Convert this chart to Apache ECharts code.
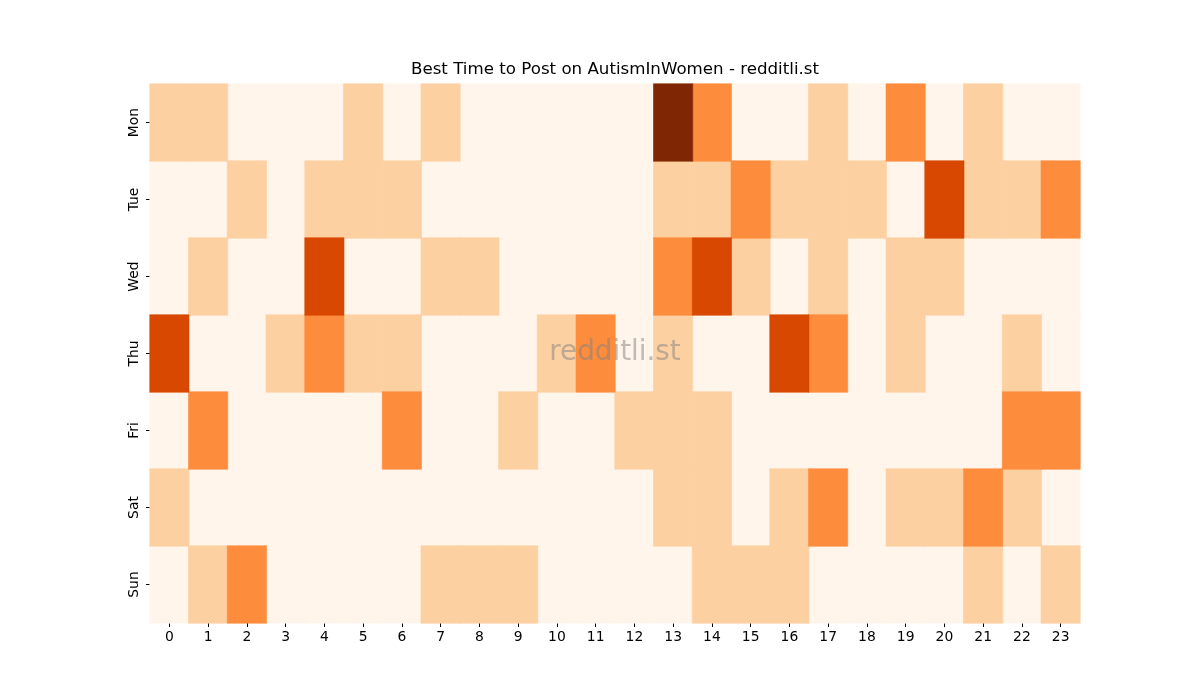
<!DOCTYPE html>
<html>
<head>
<meta charset="utf-8">
<script src="https://cdn.jsdelivr.net/npm/echarts@6/dist/echarts.min.js"></script>
<style>html,body{margin:0;padding:0;background:#fff}#c{width:1200px;height:700px}</style>
</head>
<body>
<div id="c"></div>
<script>
const hours = ['0','1','2','3','4','5','6','7','8','9','10','11','12','13','14','15','16','17','18','19','20','21','22','23'];
const days = ['Mon','Tue','Wed','Thu','Fri','Sat','Sun'];
const mon = [1,1,0,0,0,1,0,1,0,0,0,0,0,4,2,0,0,1,0,2,0,1,0,0];
const tue = [0,0,1,0,1,1,1,0,0,0,0,0,0,1,1,2,1,1,1,0,3,1,1,2];
const wed = [0,1,0,0,3,0,0,1,1,0,0,0,0,2,3,1,0,1,0,1,1,0,0,0];
const thu = [3,0,0,1,2,1,1,0,0,0,1,2,0,1,0,0,3,2,0,1,0,0,1,0];
const fri = [0,2,0,0,0,0,2,0,0,1,0,0,1,1,1,0,0,0,0,0,0,0,2,2];
const sat = [1,0,0,0,0,0,0,0,0,0,0,0,0,1,1,0,1,2,0,1,1,2,1,0];
const sun = [0,1,2,0,0,0,0,1,1,1,0,0,0,0,1,1,1,0,0,0,0,1,0,1];
const rows = [mon,tue,wed,thu,fri,sat,sun];
const levelColors = ['#fff5eb','#fdd0a2','#fd8d3c','#d94801','#7f2704'];

const data = [];
rows.forEach((r, yi) => r.forEach((v, xi) => data.push([xi, yi, v])));

const series = levelColors.map((c, lvl) => ({
  type: 'heatmap',
  data: data.filter(d => d[2] === lvl),
  itemStyle: {color: c, borderColor: c, borderWidth: 0.6},
  emphasis: {disabled: true}
}));

const chart = echarts.init(document.getElementById('c'));
const font = 'DejaVu Sans';
chart.setOption({
  animation: false,
  backgroundColor: '#fff',
  grid: {left: 150, right: 120, top: 84, bottom: 77},
  xAxis: {
    type: 'category', data: hours,
    axisLine: {show: false},
    axisTick: {show: true, alignWithLabel: true, length: 4, lineStyle: {color: '#000'}},
    axisLabel: {fontFamily: font, fontSize: 13.9, color: '#000', margin: 7, interval: 0},
    splitLine: {show: false}
  },
  yAxis: {
    type: 'category', data: days, inverse: true,
    axisLine: {show: false},
    axisTick: {show: true, alignWithLabel: true, length: 4, lineStyle: {color: '#000'}},
    axisLabel: {fontFamily: font, fontSize: 13.9, color: '#000', rotate: 90, margin: 9},
    splitLine: {show: false}
  },
  series: series,
  graphic: [{
    type: 'text', x: 615, y: 70,
    style: {
      text: 'Best Time to Post on AutismInWomen - redditli.st',
      font: '16.67px "DejaVu Sans"', fill: '#000',
      textAlign: 'center', textVerticalAlign: 'middle'
    }
  }, {
    type: 'text', x: 615, y: 353,
    style: {
      text: 'redditli.st',
      font: '27.8px "DejaVu Sans"', fill: 'rgba(128,128,128,0.5)',
      textAlign: 'center', textVerticalAlign: 'middle'
    },
    z: 100
  }]
});
</script>
</body>
</html>
